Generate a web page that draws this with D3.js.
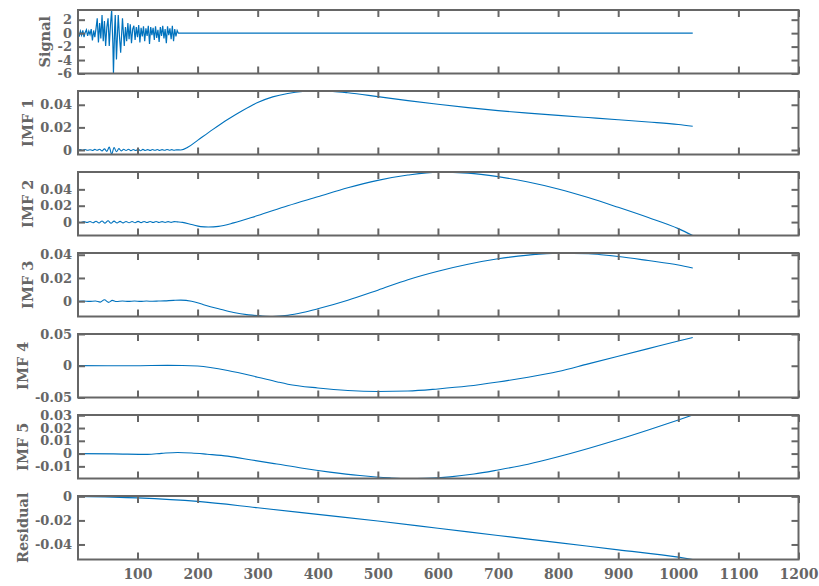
<!DOCTYPE html>
<html>
<head>
<meta charset="utf-8">
<script src="https://cdn.jsdelivr.net/npm/d3@7"></script>
<style>
  body { margin: 0; background: #fff; }
  text { font-family: "DejaVu Serif", serif; font-weight: bold; fill: #666; }
</style>
</head>
<body>
<div id="chart"></div>
<script>
// ---- data ----
const panelLabels = ["Signal", "IMF 1", "IMF 2", "IMF 3", "IMF 4", "IMF 5", "Residual"];
const xTicks = [100, 200, 300, 400, 500, 600, 700, 800, 900, 1000, 1100, 1200];
const xDomain = [1, 1200];

const signal = [[1,0.2],[3,-0.5],[5,0.3],[7,-0.3],[9,0.4],[11,-0.6],[13,0.1],[15,0.5],[17,-0.4],[19,0.3],
  [21,-0.2],[23,0.6],[25,-1.1],[27,0.4],[29,-0.6],[31,0.7],[33,2.2],[35,-1.4],[37,1.5],[39,-0.8],
  [41,2.7],[43,-1.2],[45,1.8],[47,-1.9],[49,0.9],[51,2.2],[53,-1.9],[55,1.2],[57,3.44],[59,-1.5],
  [60,-6.0],[62,0.8],[63,2.7],[65,-3.9],[68,2.7],[70,-0.5],[72,-2.9],[75,2.2],[78,-1.9],[80,0.9],
  [82,-1.2],[84,1.5],[86,-0.9],[88,1.3],[90,-1.5],[92,0.6],[94,1.1],[96,-1.0],[98,0.9],[100,-0.6],
  [102,1.2],[104,-1.4],[106,0.8],[108,-0.5],[110,1.0],[112,-1.2],[114,0.7],[116,-0.4],[118,1.1],[120,-1.6],
  [122,0.9],[124,-0.3],[126,0.8],[128,-1.0],[130,1.0],[132,-0.7],[134,0.5],[136,-1.3],[138,0.9],[140,-0.4],
  [142,1.1],[144,-0.8],[146,0.6],[148,-1.5],[150,1.0],[152,-0.3],[154,0.7],[156,-0.9],[158,1.1],[160,-1.2],
  [162,0.6],[164,-0.5],[166,0.4],[168,0],[1024,0]];

const imf1 = [[1,0],[5,0.0003],[9,-0.0002],[13,0.0004],[17,-0.0003],[21,0.0002],[25,-0.0004],[29,0.0005],
  [33,-0.0003],[37,0.0006],[41,-0.0008],[45,0.001],[49,-0.0012],[53,0.0025],[57,-0.0038],[61,0.0022],
  [65,-0.0015],[69,0.0012],[73,-0.0008],[77,0.0006],[81,-0.0005],[85,0.0007],[89,-0.0006],[93,0.0004],
  [97,-0.0005],[101,0.0008],[105,-0.0007],[109,0.0005],[113,-0.0004],[117,0.0003],[121,-0.0005],[125,0.0004],
  [129,-0.0003],[133,0.0004],[137,-0.0004],[141,0.0003],[145,-0.0003],[149,0.0004],[153,-0.0002],[157,0.0003],
  [161,-0.0002],[165,0.0001],[172,0],[185,0.0028],[200,0.0085],[225,0.018],[250,0.027],[275,0.035],
  [300,0.042],[325,0.047],[350,0.050],[375,0.0517],[400,0.0522],[425,0.0518],[450,0.0506],[500,0.0472],
  [550,0.0437],[600,0.0405],[650,0.0375],[700,0.0348],[750,0.0326],[800,0.0306],[850,0.0287],[900,0.0268],
  [950,0.0248],[1000,0.0226],[1024,0.021]];

const imf2 = [[1,0.0005],[6,-0.0006],[11,0.0007],[16,-0.0005],[21,0.0008],[26,-0.0009],[31,0.001],[36,-0.0012],
  [41,0.0014],[46,-0.0013],[51,0.0016],[56,-0.0015],[61,0.0012],[66,-0.0011],[71,0.0009],[76,-0.001],
  [81,0.0008],[86,-0.0009],[91,0.0007],[96,-0.0008],[101,0.0009],[106,-0.0007],[111,0.0008],[116,-0.0006],
  [121,0.0007],[126,-0.0006],[131,0.0007],[136,-0.0005],[141,0.0006],[146,-0.0005],[151,0.0005],[156,-0.0004],
  [161,0.0005],[166,0.0002],[175,-0.0004],[190,-0.003],[205,-0.0055],[218,-0.006],[235,-0.0052],[260,-0.001],
  [300,0.008],[350,0.020],[400,0.031],[450,0.042],[500,0.051],[550,0.0575],[600,0.061],[650,0.0598],
  [700,0.0555],[750,0.049],[800,0.0405],[850,0.030],[900,0.018],[950,0.0055],[1000,-0.008],[1024,-0.0164]];

const imf3 = [[1,0],[10,0.0001],[20,-0.0002],[30,0.0001],[38,-0.0008],[45,0.0012],[52,-0.001],[58,0.0007],
  [65,-0.0003],[75,0.0002],[85,-0.0002],[95,0.0001],[105,-0.0002],[115,0.0001],[125,-0.0001],[135,0.0001],
  [145,0.0003],[160,0.0007],[172,0.0009],[190,0],[210,-0.003],[235,-0.0065],[260,-0.0098],[285,-0.0118],
  [305,-0.0127],[325,-0.0132],[350,-0.0122],[375,-0.0098],[400,-0.0066],[450,0.0008],[500,0.0095],
  [550,0.0185],[600,0.0258],[650,0.0318],[700,0.0365],[750,0.0397],[800,0.0414],[850,0.0408],[900,0.0385],
  [950,0.035],[1000,0.0312],[1024,0.0285]];

const imf4 = [[1,0.0002],[50,0],[100,0.0001],[150,0.0006],[175,0.0005],[200,-0.0005],[250,-0.0075],
  [300,-0.018],[333,-0.0255],[350,-0.029],[400,-0.035],[450,-0.039],[500,-0.0405],[550,-0.0398],
  [600,-0.0365],[650,-0.032],[700,-0.0255],[750,-0.018],[800,-0.009],[850,0.003],[900,0.015],
  [950,0.027],[1000,0.039],[1024,0.0445]];

const imf5 = [[1,0],[60,-0.0002],[117,-0.0006],[140,0.0002],[167,0.0009],[190,0.0005],[216,-0.0005],
  [250,-0.002],[290,-0.005],[332,-0.0082],[375,-0.0115],[420,-0.0145],[470,-0.0172],[520,-0.019],
  [550,-0.0195],[580,-0.0193],[620,-0.0182],[660,-0.016],[700,-0.0128],[750,-0.0083],[800,-0.0025],
  [850,0.004],[900,0.011],[950,0.0185],[1000,0.0263],[1024,0.0302]];

const residual = [[1,0],[100,-0.0013],[200,-0.0042],[300,-0.0095],[400,-0.015],[500,-0.0205],[600,-0.0265],
  [700,-0.0325],[800,-0.0385],[900,-0.0445],[1000,-0.0505],[1024,-0.0525]];

const yDomains = [[-6, 3.44], [-0.004, 0.0522], [-0.0164, 0.0612], [-0.0132, 0.0415],
  [-0.05, 0.05], [-0.0195, 0.0302], [-0.0525, 0.0003]];
const yTicks = [[-6, -4, -2, 0, 2], [0, 0.02, 0.04], [0, 0.02, 0.04], [0, 0.02, 0.04],
  [-0.05, 0, 0.05], [-0.01, 0, 0.01, 0.02, 0.03], [-0.04, -0.02, 0]];
const series = [signal, imf1, imf2, imf3, imf4, imf5, residual];

// ---- layout ----
const ctx = {
  w: 819, h: 586,
  left: 78, right: 798.5,
  top: 10, step: 81, panelH: 63.5,
  tick: 7,
  axisColor: "#666",
  lineColor: "#0072BD"
};

function createViz() {
  const svg = d3.select("#chart").append("svg")
    .attr("width", ctx.w)
    .attr("height", ctx.h);

  const x = d3.scaleLinear().domain(xDomain).range([ctx.left, ctx.right]);

  series.forEach((data, i) => {
    const top = ctx.top + i * ctx.step;
    const bottom = top + ctx.panelH;
    const y = d3.scaleLinear().domain(yDomains[i]).range([bottom, top]);
    const last = i === series.length - 1;
    const g = svg.append("g");

    g.append("clipPath").attr("id", "clip" + i)
      .append("rect")
      .attr("x", ctx.left).attr("y", top)
      .attr("width", ctx.right - ctx.left).attr("height", ctx.panelH);

    const line = d3.line()
      .x(d => x(d[0]))
      .y(d => y(d[1]))
      .curve(i === 0 ? d3.curveLinear : d3.curveMonotoneX);

    g.append("path")
      .datum(data)
      .attr("clip-path", `url(#clip${i})`)
      .attr("fill", "none")
      .attr("stroke", ctx.lineColor)
      .attr("stroke-width", i === 0 ? 1.2 : 1.1)
      .attr("d", line);

    // axes: inward ticks on all four sides (box on)
    const fmt = d => String(d);
    const yLeft = g.append("g")
      .attr("transform", `translate(${ctx.left},0)`)
      .call(d3.axisLeft(y).tickValues(yTicks[i]).tickFormat(fmt)
        .tickSizeInner(-ctx.tick).tickSizeOuter(0).tickPadding(6));
    g.append("g")
      .attr("transform", `translate(${ctx.right},0)`)
      .call(d3.axisRight(y).tickValues(yTicks[i]).tickFormat("")
        .tickSizeInner(-ctx.tick).tickSizeOuter(0));
    g.append("g")
      .attr("transform", `translate(0,${top})`)
      .call(d3.axisTop(x).tickValues(xTicks).tickFormat("")
        .tickSizeInner(-ctx.tick).tickSizeOuter(0));
    g.append("g")
      .attr("transform", `translate(0,${bottom})`)
      .call(d3.axisBottom(x).tickValues(xTicks).tickFormat(last ? fmt : "")
        .tickSizeInner(-ctx.tick).tickSizeOuter(0).tickPadding(10))
      .selectAll("text").style("font-size", "14px");

    g.selectAll(".domain").remove();
    g.selectAll(".tick line")
      .attr("stroke", ctx.axisColor)
      .attr("stroke-width", 2);
    yLeft.selectAll("text").style("font-size", "13px");
    g.selectAll("text").attr("fill", ctx.axisColor);

    g.append("rect")
      .attr("x", ctx.left).attr("y", top)
      .attr("width", ctx.right - ctx.left).attr("height", ctx.panelH)
      .attr("fill", "none")
      .attr("stroke", ctx.axisColor)
      .attr("stroke-width", 2);

    // y label placed just left of the tick labels
    let minX = ctx.left;
    yLeft.selectAll("text").each(function () {
      const b = this.getBBox();
      const m = this.getCTM();
      minX = Math.min(minX, b.x + m.e);
    });
    g.append("text")
      .attr("transform", `translate(${minX - 12.5},${(top + bottom) / 2}) rotate(-90)`)
      .attr("text-anchor", "middle")
      .attr("dy", "0.35em")
      .style("font-size", "14.5px")
      .attr("fill", ctx.axisColor)
      .text(panelLabels[i]);
  });
}

document.addEventListener("DOMContentLoaded", function () {
  createViz();
});
</script>
</body>
</html>
